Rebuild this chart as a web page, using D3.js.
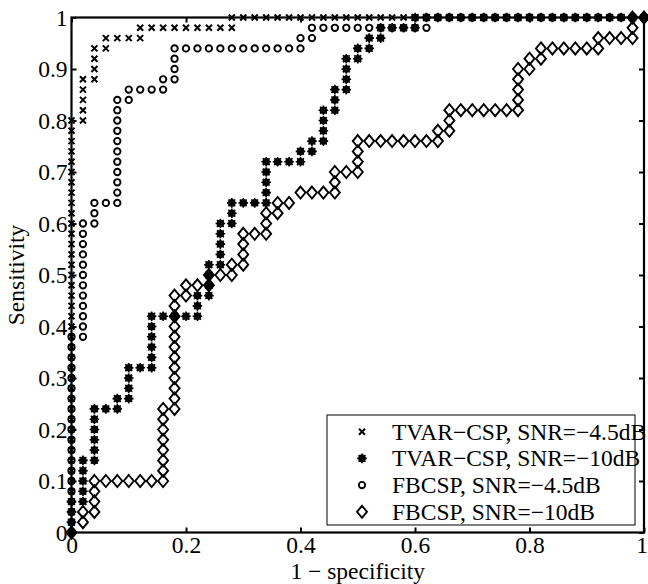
<!DOCTYPE html>
<html>
<head>
<meta charset="utf-8">
<script src="https://cdn.jsdelivr.net/npm/d3@7"></script>
<style>
  body { margin: 0; background: #fff; }
  svg text { font-family: "Liberation Serif", "DejaVu Serif", Times, serif; fill: #000; }
</style>
</head>
<body>
<div id="chart"></div>
<script>
// ROC points as [false positives, true positives] out of 50 negatives / 50 positives
const N = 50;

const tvar45 = [
  [0,0],[0,1],[0,2],[0,3],[0,4],[0,5],[0,6],[0,7],[0,8],[0,9],
  [0,10],[0,11],[0,12],[0,13],[0,14],[0,15],[0,16],[0,17],[0,18],[0,19],
  [0,20],[0,21],[0,22],[0,23],[0,24],[0,25],[0,26],[0,27],[0,28],[0,29],
  [0,30],[0,31],[0,32],[0,33],[0,34],[0,35],[0,36],[0,37],[0,38],[0,39],[0,40],
  [1,40],[1,41],[1,42],[1,43],[1,44],[2,44],[2,45],[2,46],[2,47],[3,47],[3,48],
  [4,48],[5,48],[6,48],[6,49],[7,49],[8,49],[9,49],[10,49],[11,49],[12,49],[13,49],[14,49],
  [14,50],[15,50],[16,50],[17,50],[18,50],[19,50],[20,50],[21,50],[22,50],[23,50],[24,50],
  [25,50],[26,50],[27,50],[28,50],[29,50],[30,50],[31,50],[32,50],[33,50],[34,50],[35,50],
  [36,50],[37,50],[38,50],[39,50],[40,50],[41,50],[42,50],[43,50],[44,50],[45,50],[46,50],
  [47,50],[48,50],[49,50],[50,50]
];

const tvar10 = [
  [0,0],[0,1],[0,2],[0,3],[1,3],[1,4],[1,5],[1,6],[1,7],[2,7],[2,8],[2,9],[2,10],[2,11],[2,12],
  [3,12],[4,12],[4,13],[5,13],[5,14],[5,15],[5,16],[6,16],[7,16],[7,17],[7,18],[7,19],[7,20],[7,21],
  [8,21],[9,21],[10,21],[11,21],[11,22],[11,23],[12,23],[12,24],[12,25],[12,26],
  [13,26],[13,27],[13,28],[13,29],[13,30],[14,30],[14,31],[14,32],[15,32],[16,32],[17,32],
  [17,33],[17,34],[17,35],[17,36],[18,36],[19,36],[20,36],[20,37],[21,37],[21,38],
  [22,38],[22,39],[22,40],[22,41],[23,41],[23,42],[23,43],[24,43],[24,44],[24,45],[24,46],
  [25,46],[25,47],[26,47],[26,48],[27,48],[27,49],[28,49],[29,49],[30,49],[30,50],
  [31,50],[32,50],[33,50],[34,50],[35,50],[36,50],[37,50],[38,50],[39,50],[40,50],
  [41,50],[42,50],[43,50],[44,50],[45,50],[46,50],[47,50],[48,50],[49,50],[50,50]
];

const fb45 = [
  [0,0],[0,1],[0,2],[0,3],[0,4],[0,5],[0,6],[0,7],[0,8],[0,9],
  [0,10],[0,11],[0,12],[0,13],[0,14],[0,15],[0,16],[0,17],[0,18],[0,19],
  [1,19],[1,20],[1,21],[1,22],[1,23],[1,24],[1,25],[1,26],[1,27],[1,28],[1,29],[1,30],
  [2,30],[2,31],[2,32],[3,32],[4,32],[4,33],[4,34],[4,35],[4,36],[4,37],[4,38],[4,39],
  [4,40],[4,41],[4,42],[5,42],[5,43],[6,43],[7,43],[8,43],[8,44],[9,44],[9,45],[9,46],[9,47],
  [10,47],[11,47],[12,47],[13,47],[14,47],[15,47],[16,47],[17,47],[18,47],[19,47],[20,47],
  [20,48],[21,48],[21,49],[22,49],[23,49],[24,49],[25,49],[26,49],[27,49],[28,49],[29,49],
  [30,49],[31,49],[31,50],[32,50],[33,50],[34,50],[35,50],[36,50],[37,50],[38,50],[39,50],
  [40,50],[41,50],[42,50],[43,50],[44,50],[45,50],[46,50],[47,50],[48,50],[49,50],[50,50]
];

const fb10 = [
  [0,0],[1,1],[1,2],[2,2],[2,3],[2,4],[2,5],[3,5],[4,5],[5,5],[6,5],[7,5],[8,5],
  [8,6],[8,7],[8,8],[8,9],[8,10],[8,11],[8,12],[9,12],[9,13],[9,14],[9,15],[9,16],
  [9,17],[9,18],[9,19],[9,20],[9,21],[9,22],[9,23],[10,23],[10,24],[11,24],[12,24],
  [12,25],[13,25],[14,25],[14,26],[15,26],[15,27],[15,28],[15,29],[16,29],[17,29],
  [17,30],[17,31],[18,31],[18,32],[19,32],[20,33],[21,33],[22,33],[23,33],[23,34],
  [23,35],[24,35],[25,35],[25,36],[25,37],[25,38],[26,38],[27,38],[28,38],[29,38],
  [30,38],[31,38],[32,38],[32,39],[33,39],[33,40],[33,41],[34,41],[35,41],[36,41],
  [37,41],[38,41],[39,41],[39,42],[39,43],[39,44],[39,45],[40,45],[40,46],[41,46],
  [41,47],[42,47],[43,47],[44,47],[45,47],[46,47],[46,48],[47,48],[48,48],[49,48],
  [49,49],[49,50],[50,50]
];

const seriesNames = [
  "TVAR\u2212CSP, SNR=\u22124.5dB",
  "TVAR\u2212CSP, SNR=\u221210dB",
  "FBCSP, SNR=\u22124.5dB",
  "FBCSP, SNR=\u221210dB"
];
const seriesData = [tvar45, tvar10, fb45, fb10];
const seriesMarkers = ["cross", "star", "circle", "diamond"];

const xTicks = [0, 0.2, 0.4, 0.6, 0.8, 1];
const yTicks = [0, 0.1, 0.2, 0.3, 0.4, 0.5, 0.6, 0.7, 0.8, 0.9, 1];

const width = 648, height = 584;
const margin = {top: 17.5, right: 4, bottom: 51.5, left: 71.5};
const innerW = width - margin.left - margin.right;
const innerH = height - margin.top - margin.bottom;
const fontSize = 23.5;
const serif = "Liberation Serif, DejaVu Serif, Times, serif";

const svg = d3.select("#chart").append("svg")
  .attr("width", width)
  .attr("height", height)
  .style("font-family", serif);

const g = svg.append("g")
  .attr("transform", `translate(${margin.left},${margin.top})`);

const x = d3.scaleLinear().domain([0, 1]).range([0, innerW]);
const y = d3.scaleLinear().domain([0, 1]).range([innerH, 0]);
const fmt = d3.format("~g");

function styleAxis(sel, showLabels) {
  sel.attr("font-family", null).attr("font-size", null);
  sel.select(".domain").remove();
  sel.selectAll(".tick line").attr("stroke", "#000").attr("stroke-width", 2);
  if (showLabels) {
    sel.selectAll(".tick text")
      .style("font-family", serif)
      .style("font-size", fontSize + "px")
      .attr("fill", "#000");
  } else {
    sel.selectAll(".tick text").remove();
  }
}

// inward ticks on all four sides, like a boxed plot
g.append("g").attr("transform", `translate(0,${innerH})`)
  .call(d3.axisBottom(x).tickValues(xTicks).tickFormat(fmt).tickSize(-5).tickPadding(4))
  .call(s => styleAxis(s, true))
  .selectAll(".tick text").attr("dx", d => d === 1 ? "-0.1em" : null);
g.append("g")
  .call(d3.axisTop(x).tickValues(xTicks).tickSize(-5))
  .call(s => styleAxis(s, false));
g.append("g")
  .call(d3.axisLeft(y).tickValues(yTicks).tickFormat(fmt).tickSize(-5).tickPadding(4))
  .call(s => styleAxis(s, true));
g.append("g").attr("transform", `translate(${innerW},0)`)
  .call(d3.axisRight(y).tickValues(yTicks).tickSize(-5))
  .call(s => styleAxis(s, false));

g.append("rect")
  .attr("width", innerW)
  .attr("height", innerH)
  .attr("fill", "none")
  .attr("stroke", "#000")
  .attr("stroke-width", 2.2);

function drawMarker(sel, type) {
  if (type === "cross") {
    sel.append("path")
      .attr("d", "M-3,-3L3,3M-3,3L3,-3")
      .attr("stroke", "#000").attr("stroke-width", 2).attr("fill", "none");
  } else if (type === "star") {
    sel.append("circle").attr("r", 3.8).attr("fill", "#000");
    sel.append("path")
      .attr("d", "M0,-4.8V4.8M-4.8,0H4.8M-3.4,-3.4L3.4,3.4M-3.4,3.4L3.4,-3.4")
      .attr("stroke", "#000").attr("stroke-width", 1.6).attr("fill", "none");
  } else if (type === "circle") {
    sel.append("circle").attr("r", 3.2)
      .attr("fill", "none").attr("stroke", "#000").attr("stroke-width", 1.9);
  } else {
    sel.append("path")
      .attr("d", "M0,-6L5,0L0,6L-5,0Z")
      .attr("fill", "none").attr("stroke", "#000").attr("stroke-width", 1.9);
  }
}

seriesData.forEach((data, i) => {
  g.append("g").attr("class", "series-" + i)
    .selectAll("g")
    .data(data)
    .join("g")
    .attr("transform", d => `translate(${x(d[0] / N)},${y(d[1] / N)})`)
    .each(function() { drawMarker(d3.select(this), seriesMarkers[i]); });
});

// legend
const legend = svg.append("g").attr("transform", "translate(327,415)");
legend.append("rect")
  .attr("width", 308)
  .attr("height", 110)
  .attr("fill", "#fff")
  .attr("stroke", "#000")
  .attr("stroke-width", 1);

const rows = legend.selectAll(".row")
  .data(seriesNames)
  .join("g")
  .attr("class", "row")
  .attr("transform", (d, i) => `translate(0,${16.7 + i * 26.7})`);

rows.append("g")
  .attr("transform", "translate(35,0)")
  .each(function(d, i) { drawMarker(d3.select(this), seriesMarkers[i]); });

rows.append("text")
  .attr("x", 65)
  .attr("y", 8)
  .style("font-family", serif)
  .style("font-size", fontSize + "px")
  .text(d => d);

// axis titles
svg.append("text")
  .attr("x", margin.left + innerW / 2)
  .attr("y", 579)
  .attr("text-anchor", "middle")
  .style("font-family", serif)
  .style("font-size", fontSize + "px")
  .text("1 \u2212 specificity");

svg.append("text")
  .attr("transform", `translate(24,${margin.top + innerH / 2}) rotate(-90)`)
  .attr("text-anchor", "middle")
  .style("font-family", serif)
  .style("font-size", fontSize + "px")
  .text("Sensitivity");
</script>
</body>
</html>
